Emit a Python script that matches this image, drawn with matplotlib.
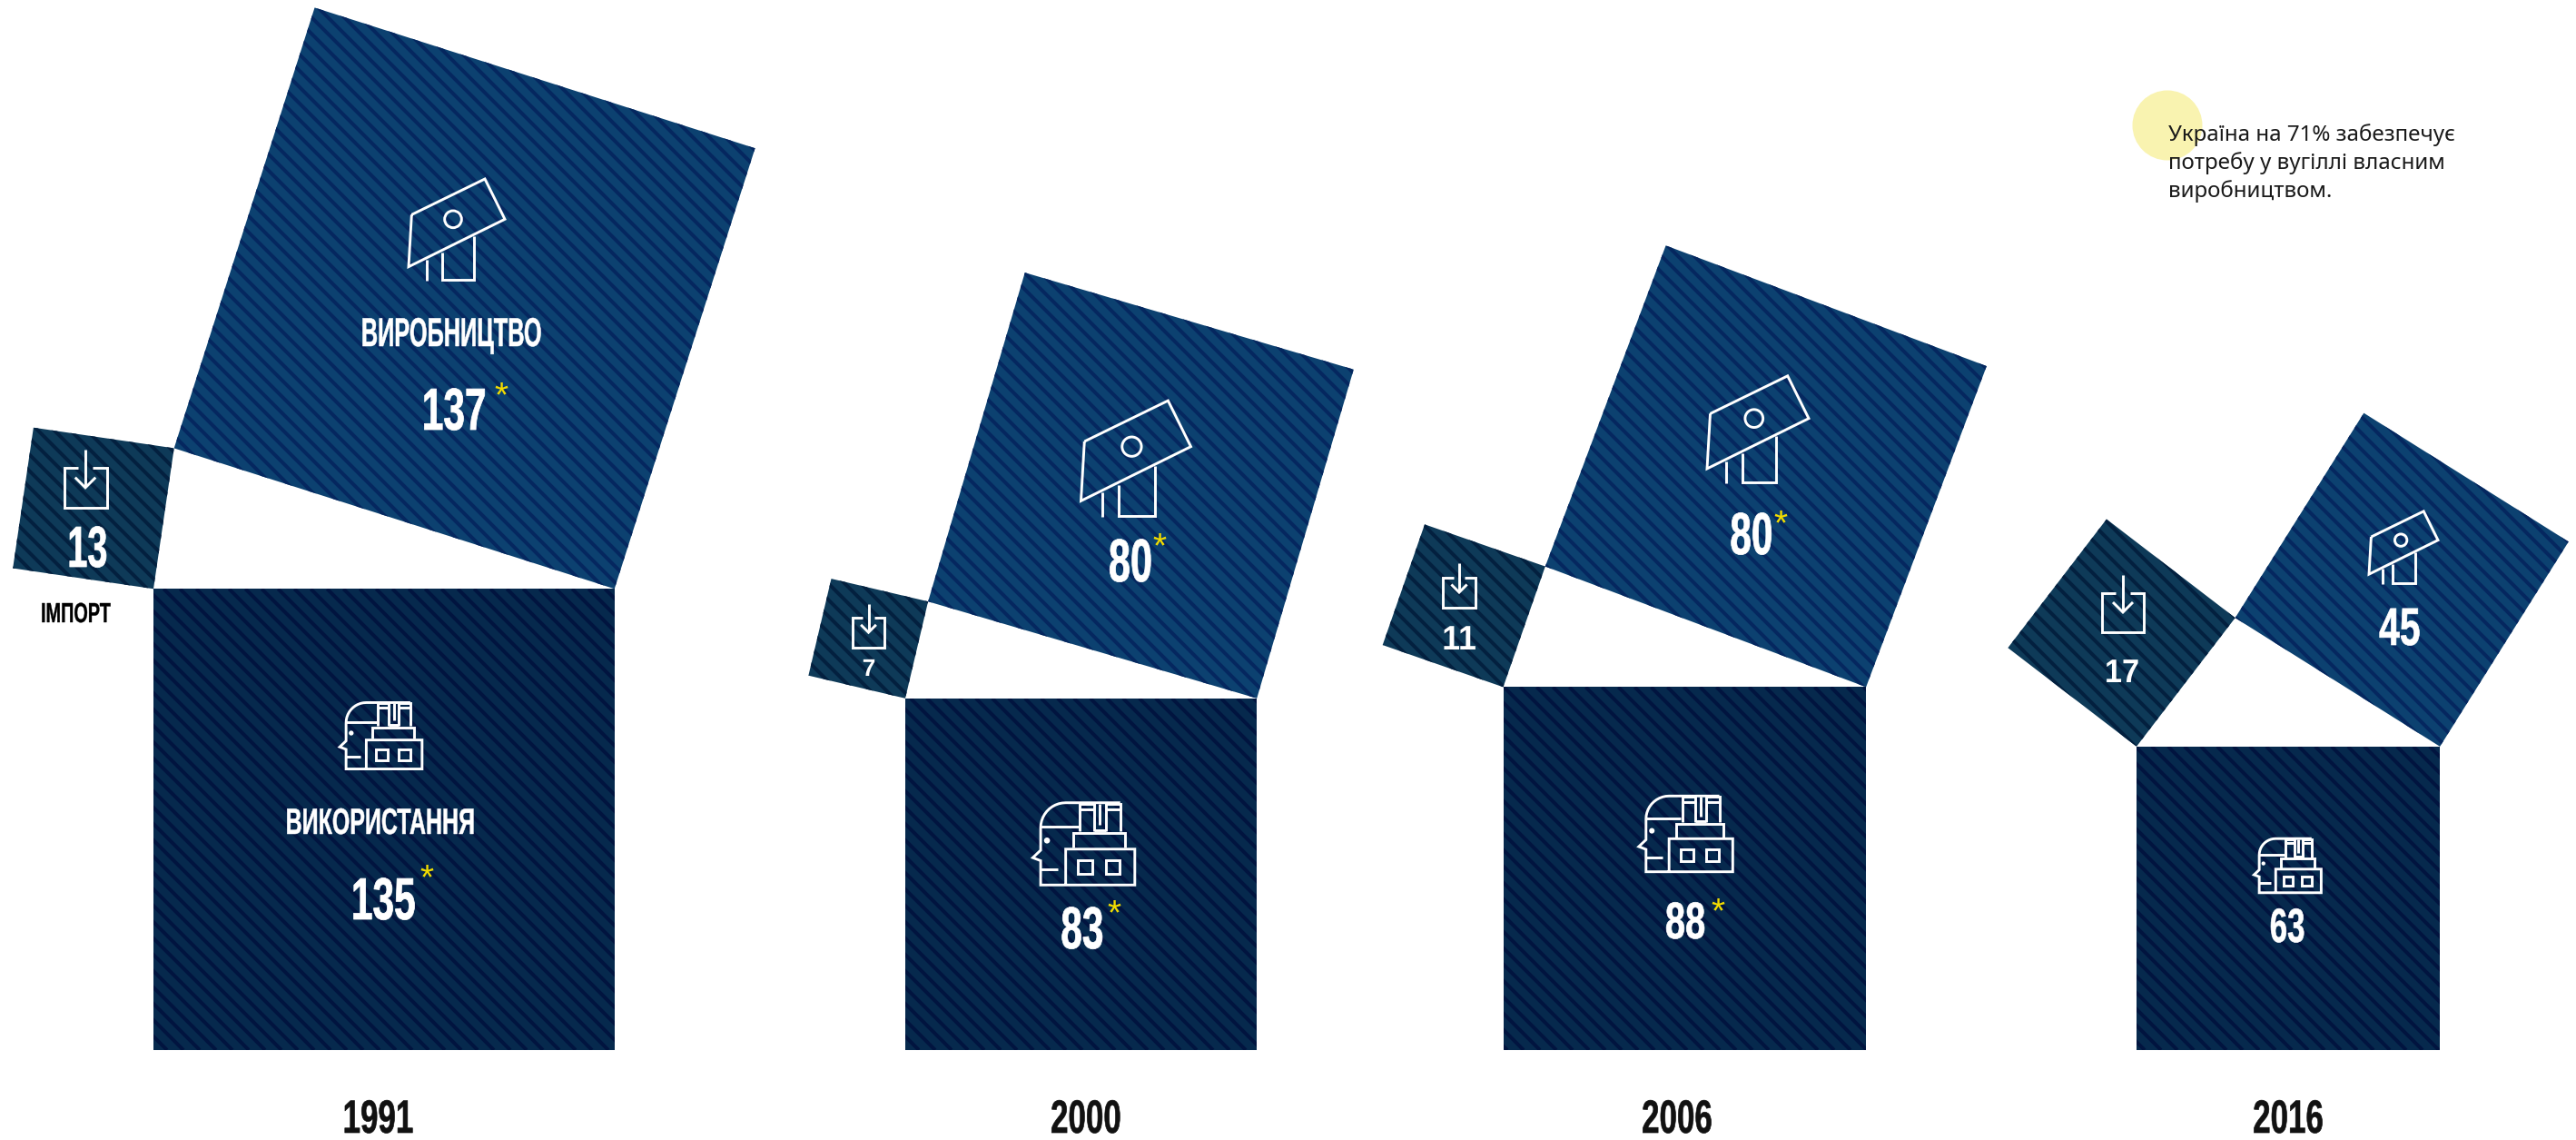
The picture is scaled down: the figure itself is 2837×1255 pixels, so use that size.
import numpy as np
import matplotlib
matplotlib.use('Agg')
import matplotlib.pyplot as plt
from matplotlib.patches import Polygon, Circle, Rectangle
from matplotlib.patheffects import AbstractPathEffect
from matplotlib.transforms import Affine2D

years = ['1991', '2000', '2006', '2016']
usage = [135, 83, 88, 63]
production = [137, 80, 80, 45]
imports = [13, 7, 11, 17]

W, H = 2837, 1255
BOTTOM = 1156

# left edge of the base square and px per sqrt(unit) for base / import / production
base_left = [169, 997, 1655.5, 2353]
scale_base = [43.7, 42.5, 42.6, 42.1]
scale_imp = [43.4, 41.4, 42.4, 43.3]
scale_prod = [43.5, 42.2, 42.2, 39.7]

COL_USE = ('#06294d', '#01143f')
COL_PROD = ('#0c4170', '#05275f')
COL_IMP = ('#0e3a58', '#03203f')
COND = 'Liberation Sans'


class Squeeze(AbstractPathEffect):
    # no condensed face installed, so narrow the glyphs around the text centre
    def __init__(self, sx, stroke=0.0):
        super().__init__()
        self.sx = sx
        self.stroke = stroke

    def draw_path(self, renderer, gc, tpath, affine, rgbFace=None):
        ext = tpath.get_extents()
        mid = (ext.x0 + ext.x1) / 2
        t = Affine2D().translate(-mid, 0).scale(self.sx, 1).translate(mid, 0)
        gc0 = renderer.new_gc()
        gc0.copy_properties(gc)
        gc0.set_linewidth(self.stroke)
        gc0.set_foreground(rgbFace)
        renderer.draw_path(gc0, tpath, t + affine, rgbFace)
        gc0.restore()


def striped_square(ax, corners, colors):
    poly = Polygon(corners, closed=True, fc=colors[0], ec='none', zorder=1)
    ax.add_patch(poly)
    xs = corners[:, 0]
    ys = corners[:, 1]
    # 45 degree stripes, 18 px apart horizontally
    lo = np.floor((xs - ys).min() / 18) * 18
    hi = (xs - ys).max() + 18
    for c in np.arange(lo, hi, 18):
        ln, = ax.plot([ys.min() + c, ys.max() + c], [ys.min(), ys.max()],
                      color=colors[1], lw=4 * 0.72, zorder=2, solid_capstyle='butt')
        ln.set_clip_path(poly)


def outer_square(p, q):
    # square on edge p->q, on the left of the direction in screen coords
    d = q - p
    n = np.array([d[1], -d[0]])
    return np.array([p, q, q + n, p + n])


def apex(c, a, b):
    x = (c ** 2 + a ** 2 - b ** 2) / (2 * c)
    return x, np.sqrt(a ** 2 - x ** 2)


def lines(ax, pts, cx, cy, s, closed=False):
    pts = np.array(pts, dtype=float)
    if closed:
        pts = np.vstack([pts, pts[0]])
    ax.plot(cx + pts[:, 0] * s, cy + pts[:, 1] * s, color='white', lw=2.1,
            solid_joinstyle='miter', solid_capstyle='butt', zorder=4)


def press_icon(ax, cx, cy, width):
    # traced on a 318 wide grid, centred
    s = width / 318
    lines(ax, [(-149, -50), (93, -168), (159, -35), (-159, 122)], cx, cy, s, closed=True)
    lines(ax, [(-98, 98), (-98, 167)], cx, cy, s)
    lines(ax, [(-49, 75), (-49, 165), (56, 165), (56, 20)], cx, cy, s)
    ax.add_patch(Circle((cx - 12 * s, cy - 35 * s), 28 * s, fc='none', ec='white', lw=2.1, zorder=4))


def head_icon(ax, cx, cy, width):
    # traced on a 277 wide grid, centred
    s = width / 277
    t = np.linspace(np.pi, 1.5 * np.pi, 12)
    arc = [(-47 + 67 * np.cos(v), -43 + 67 * np.sin(v)) for v in t]
    outline = [(99, -110)] + arc[::-1] + [(-114, 17), (-135, 37), (-114, 45), (-114, 110), (138, 110), (138, 14), (-47, 14), (-47, 110)]
    lines(ax, outline, cx, cy, s)
    lines(ax, [(-114, -45), (-12, -45)], cx, cy, s)
    lines(ax, [(-114, 69), (-67, 69)], cx, cy, s)
    lines(ax, [(-27, 10), (-27, -28), (111, -28), (111, 10)], cx, cy, s)
    lines(ax, [(-9, -33), (-9, -108), (28, -108), (28, -33)], cx, cy, s)
    lines(ax, [(61, -33), (61, -108), (99, -108), (99, -33)], cx, cy, s)
    lines(ax, [(-9, -92), (28, -92)], cx, cy, s)
    lines(ax, [(61, -92), (99, -92)], cx, cy, s)
    lines(ax, [(28, -36), (61, -36)], cx, cy, s)
    lines(ax, [(44, -108), (44, -50)], cx, cy, s)
    for x0 in (-14, 60):
        ax.add_patch(Rectangle((cx + x0 * s, cy + 44 * s), 38 * s, 36 * s, fc='none', ec='white', lw=2.1, zorder=4))
    ax.add_patch(Circle((cx - 97 * s, cy - 9 * s), 8 * s, fc='white', ec='none', zorder=4))


def import_icon(ax, cx, y_top, width):
    # box of 46 x 43, arrow starts 20 above the box
    s = width / 46
    lines(ax, [(-8, 20), (-23, 20), (-23, 63), (23, 63), (23, 20), (8, 20)], cx, y_top, s)
    lines(ax, [(0, 0), (0, 40)], cx, y_top, s)
    lines(ax, [(-11, 30), (0, 41), (11, 30)], cx, y_top, s)


def label(ax, x, y, txt, h, sx=0.66, color='white'):
    # h is the cap height in px, y the baseline
    size = h / 0.72 * 0.72
    stroke = h * 0.012 if sx < 0.9 else 0.0
    ax.text(x, y, txt, color=color, fontsize=size, family=COND, weight='bold',
            ha='center', va='baseline', zorder=5, path_effects=[Squeeze(sx, stroke)])


fig = plt.figure(figsize=(W / 100, H / 100), dpi=100)
ax = fig.add_axes([0, 0, 1, 1])
ax.set_xlim(0, W)
ax.set_ylim(H, 0)
ax.axis('off')

for i in range(len(years)):
    c = scale_base[i] * np.sqrt(usage[i])
    a = scale_imp[i] * np.sqrt(imports[i])
    b = scale_prod[i] * np.sqrt(production[i])
    left = np.array([base_left[i], BOTTOM - c])
    right = left + np.array([c, 0])
    dx, dy = apex(c, a, b)
    top = left + np.array([dx, -dy])

    striped_square(ax, np.array([left, right, right + [0, c], left + [0, c]]), COL_USE)
    striped_square(ax, outer_square(top, right), COL_PROD)
    striped_square(ax, outer_square(left, top), COL_IMP)

# production icons
press_icon(ax, 503, 253, 106)
press_icon(ax, 1251, 505, 121)
press_icon(ax, 1936, 473, 112)
press_icon(ax, 2647, 603, 76)
# usage icons
head_icon(ax, 419, 810, 92)
head_icon(ax, 1193, 929, 114)
head_icon(ax, 1856, 918, 105)
head_icon(ax, 2519, 953, 75)
# import icons
import_icon(ax, 94, 495, 47)
import_icon(ax, 956.5, 665, 35)
import_icon(ax, 1607, 620, 36)
import_icon(ax, 2338, 633, 46)

label(ax, 497, 381, 'ВИРОБНИЦТВО', 32, sx=0.57)
label(ax, 419, 918, 'ВИКОРИСТАННЯ', 29, sx=0.62)
label(ax, 83, 685, 'ІМПОРТ', 22, sx=0.65, color='black')

value_pos = [
    (str(production[0]), 500, 473, 47, 0.65), (str(production[1]), 1245, 640, 48, 0.65),
    (str(production[2]), 1929, 610, 47, 0.65), (str(production[3]), 2643, 710, 42, 0.7),
    (str(usage[0]), 422, 1012, 47, 0.65), (str(usage[1]), 1192, 1044, 47, 0.65),
    (str(usage[2]), 1856, 1033, 41, 0.7), (str(usage[3]), 2519, 1037, 38, 0.66),
    (str(imports[0]), 96, 624, 46, 0.62), (str(imports[1]), 957, 744, 19, 1.0),
    (str(imports[2]), 1607, 715, 27, 0.95), (str(imports[3]), 2337, 751, 26, 0.95),
]
for txt, x, y, h, sx in value_pos:
    label(ax, x, y, txt, h, sx=sx)

for x, y in [(552, 437), (470, 968), (1277, 603), (1227, 1007), (1961, 578), (1892, 1005)]:
    ax.text(x, y, '*', color='#f2dc00', fontsize=28, family='Liberation Sans', ha='center', va='center', zorder=5)

for x, yr in zip([416, 1196, 1847, 2520], years):
    label(ax, x, 1247, yr, 37, sx=0.68, color='#111111')

ax.add_patch(Circle((2387, 138), 38.5, fc='#f9f3b0', ec='none', zorder=1))
note_lines = ['Україна на 71% забезпечує', 'потребу у вугіллі власним', 'виробництвом.']
for y, txt in zip([155, 186, 217], note_lines):
    ax.text(2388, y, txt, color='#1a1a1a', fontsize=17.4, family='Noto Sans', ha='left', va='baseline', zorder=5)

fig.savefig('out.png', dpi=100, facecolor='white')
